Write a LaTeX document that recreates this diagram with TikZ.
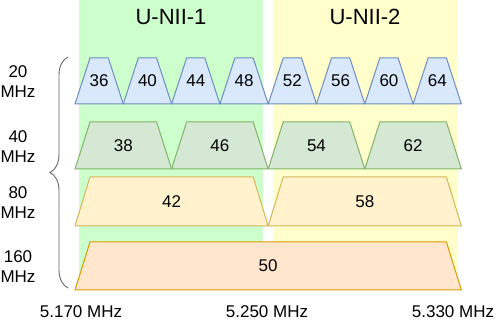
\documentclass[tikz,border=0pt]{standalone}
\usepackage{fontspec}
\setmainfont{Liberation Sans}
\usetikzlibrary{decorations.pathreplacing}
\definecolor{uniione}{HTML}{CCFFCC}
\definecolor{uniitwo}{HTML}{FFFFCC}
\definecolor{bluefill}{HTML}{DAE8FC}
\definecolor{blueline}{HTML}{6C8EBF}
\definecolor{greenfill}{HTML}{D5E8D4}
\definecolor{greenline}{HTML}{82B366}
\definecolor{yellowfill}{HTML}{FFF2CC}
\definecolor{yellowline}{HTML}{D6B656}
\definecolor{orangefill}{HTML}{FFE6CC}
\definecolor{orangeline}{HTML}{D79B00}
\definecolor{mute}{HTML}{666666}
\tikzset{
  ch20/.style={fill=bluefill, draw=blueline, line width=1pt, line join=round},
  ch40/.style={fill=greenfill, draw=greenline, line width=1pt, line join=round},
  ch80/.style={fill=yellowfill, draw=yellowline, line width=1pt, line join=round},
  ch160/.style={fill=orangefill, draw=orangeline, line width=1pt, line join=round},
  chlabel/.style={font=\fontsize{17}{20}\selectfont, inner sep=0pt},
  rowlabel/.style={font=\fontsize{17}{20}\selectfont, align=center, inner sep=0pt},
  bandtitle/.style={font=\fontsize{22}{26}\selectfont, inner sep=0pt},
  sizebrace/.style={draw=mute, line width=0.9pt, decorate, decoration={brace, amplitude=18pt}},
}

\begin{document}
\begin{tikzpicture}[x=1pt, y=-1pt]
  \useasboundingbox (0,0) rectangle (496,320);
  % sub-bands
  \fill[uniione] (79,0) rectangle (263,290);
  \fill[uniitwo] (273,0) rectangle (458,290);
  \node[bandtitle] (unii1) at (171,17) {U-NII-1};
  \node[bandtitle] (unii2) at (365,17) {U-NII-2};

  % 20 MHz
  \draw[ch20] (75,104) -- (90,58) -- (108.3,58) -- (123.3,104) -- cycle;
  \draw[ch20] (123.3,104) -- (138.3,58) -- (156.6,58) -- (171.6,104) -- cycle;
  \draw[ch20] (171.6,104) -- (186.6,58) -- (204.9,58) -- (219.9,104) -- cycle;
  \draw[ch20] (219.9,104) -- (234.9,58) -- (253.2,58) -- (268.2,104) -- cycle;
  \draw[ch20] (268.2,104) -- (283.2,58) -- (301.5,58) -- (316.5,104) -- cycle;
  \draw[ch20] (316.5,104) -- (331.5,58) -- (349.8,58) -- (364.8,104) -- cycle;
  \draw[ch20] (364.8,104) -- (379.8,58) -- (398.1,58) -- (413.1,104) -- cycle;
  \draw[ch20] (413.1,104) -- (428.1,58) -- (446.4,58) -- (461.4,104) -- cycle;
  \node[chlabel] (c36) at (99.2,81) {36};
  \node[chlabel] (c40) at (147.5,81) {40};
  \node[chlabel] (c44) at (195.8,81) {44};
  \node[chlabel] (c48) at (244.1,81) {48};
  \node[chlabel] (c52) at (292.4,81) {52};
  \node[chlabel] (c56) at (340.7,81) {56};
  \node[chlabel] (c60) at (389,81) {60};
  \node[chlabel] (c64) at (437.3,81) {64};

  % 40 MHz
  \draw[ch40] (75,169) -- (90,122) -- (156.6,122) -- (171.6,169) -- cycle;
  \draw[ch40] (171.6,169) -- (186.6,122) -- (253.2,122) -- (268.2,169) -- cycle;
  \draw[ch40] (268.2,169) -- (283.2,122) -- (349.8,122) -- (364.8,169) -- cycle;
  \draw[ch40] (364.8,169) -- (379.8,122) -- (446.4,122) -- (461.4,169) -- cycle;
  \node[chlabel] (c38) at (123.3,145.5) {38};
  \node[chlabel] (c46) at (219.9,145.5) {46};
  \node[chlabel] (c54) at (316.5,145.5) {54};
  \node[chlabel] (c62) at (413.1,145.5) {62};

  % 80 MHz
  \draw[ch80] (75,226) -- (90,177) -- (253.2,177) -- (268.2,226) -- cycle;
  \draw[ch80] (268.2,226) -- (283.2,177) -- (446.4,177) -- (461.4,226) -- cycle;
  \node[chlabel] (c42) at (171.6,201.5) {42};
  \node[chlabel] (c58) at (364.8,201.5) {58};

  % 160 MHz
  \draw[ch160] (75,290) -- (90,242) -- (446.4,242) -- (461.4,290) -- cycle;
  \node[chlabel] (c50) at (268.2,266) {50};

  % widths
  \draw[sizebrace] (68,288) -- (68,57);
  \node[rowlabel] (r20) at (18,82) {20\\MHz};
  \node[rowlabel] (r40) at (18,147) {40\\MHz};
  \node[rowlabel] (r80) at (18,203) {80\\MHz};
  \node[rowlabel] (r160) at (18,267) {160\\MHz};

  % frequencies
  \node[chlabel] (f5170) at (81,311.5) {5.170 MHz};
  \node[chlabel] (f5250) at (267,311.5) {5.250 MHz};
  \node[chlabel] (f5330) at (453,311.5) {5.330 MHz};
\end{tikzpicture}
\end{document}
